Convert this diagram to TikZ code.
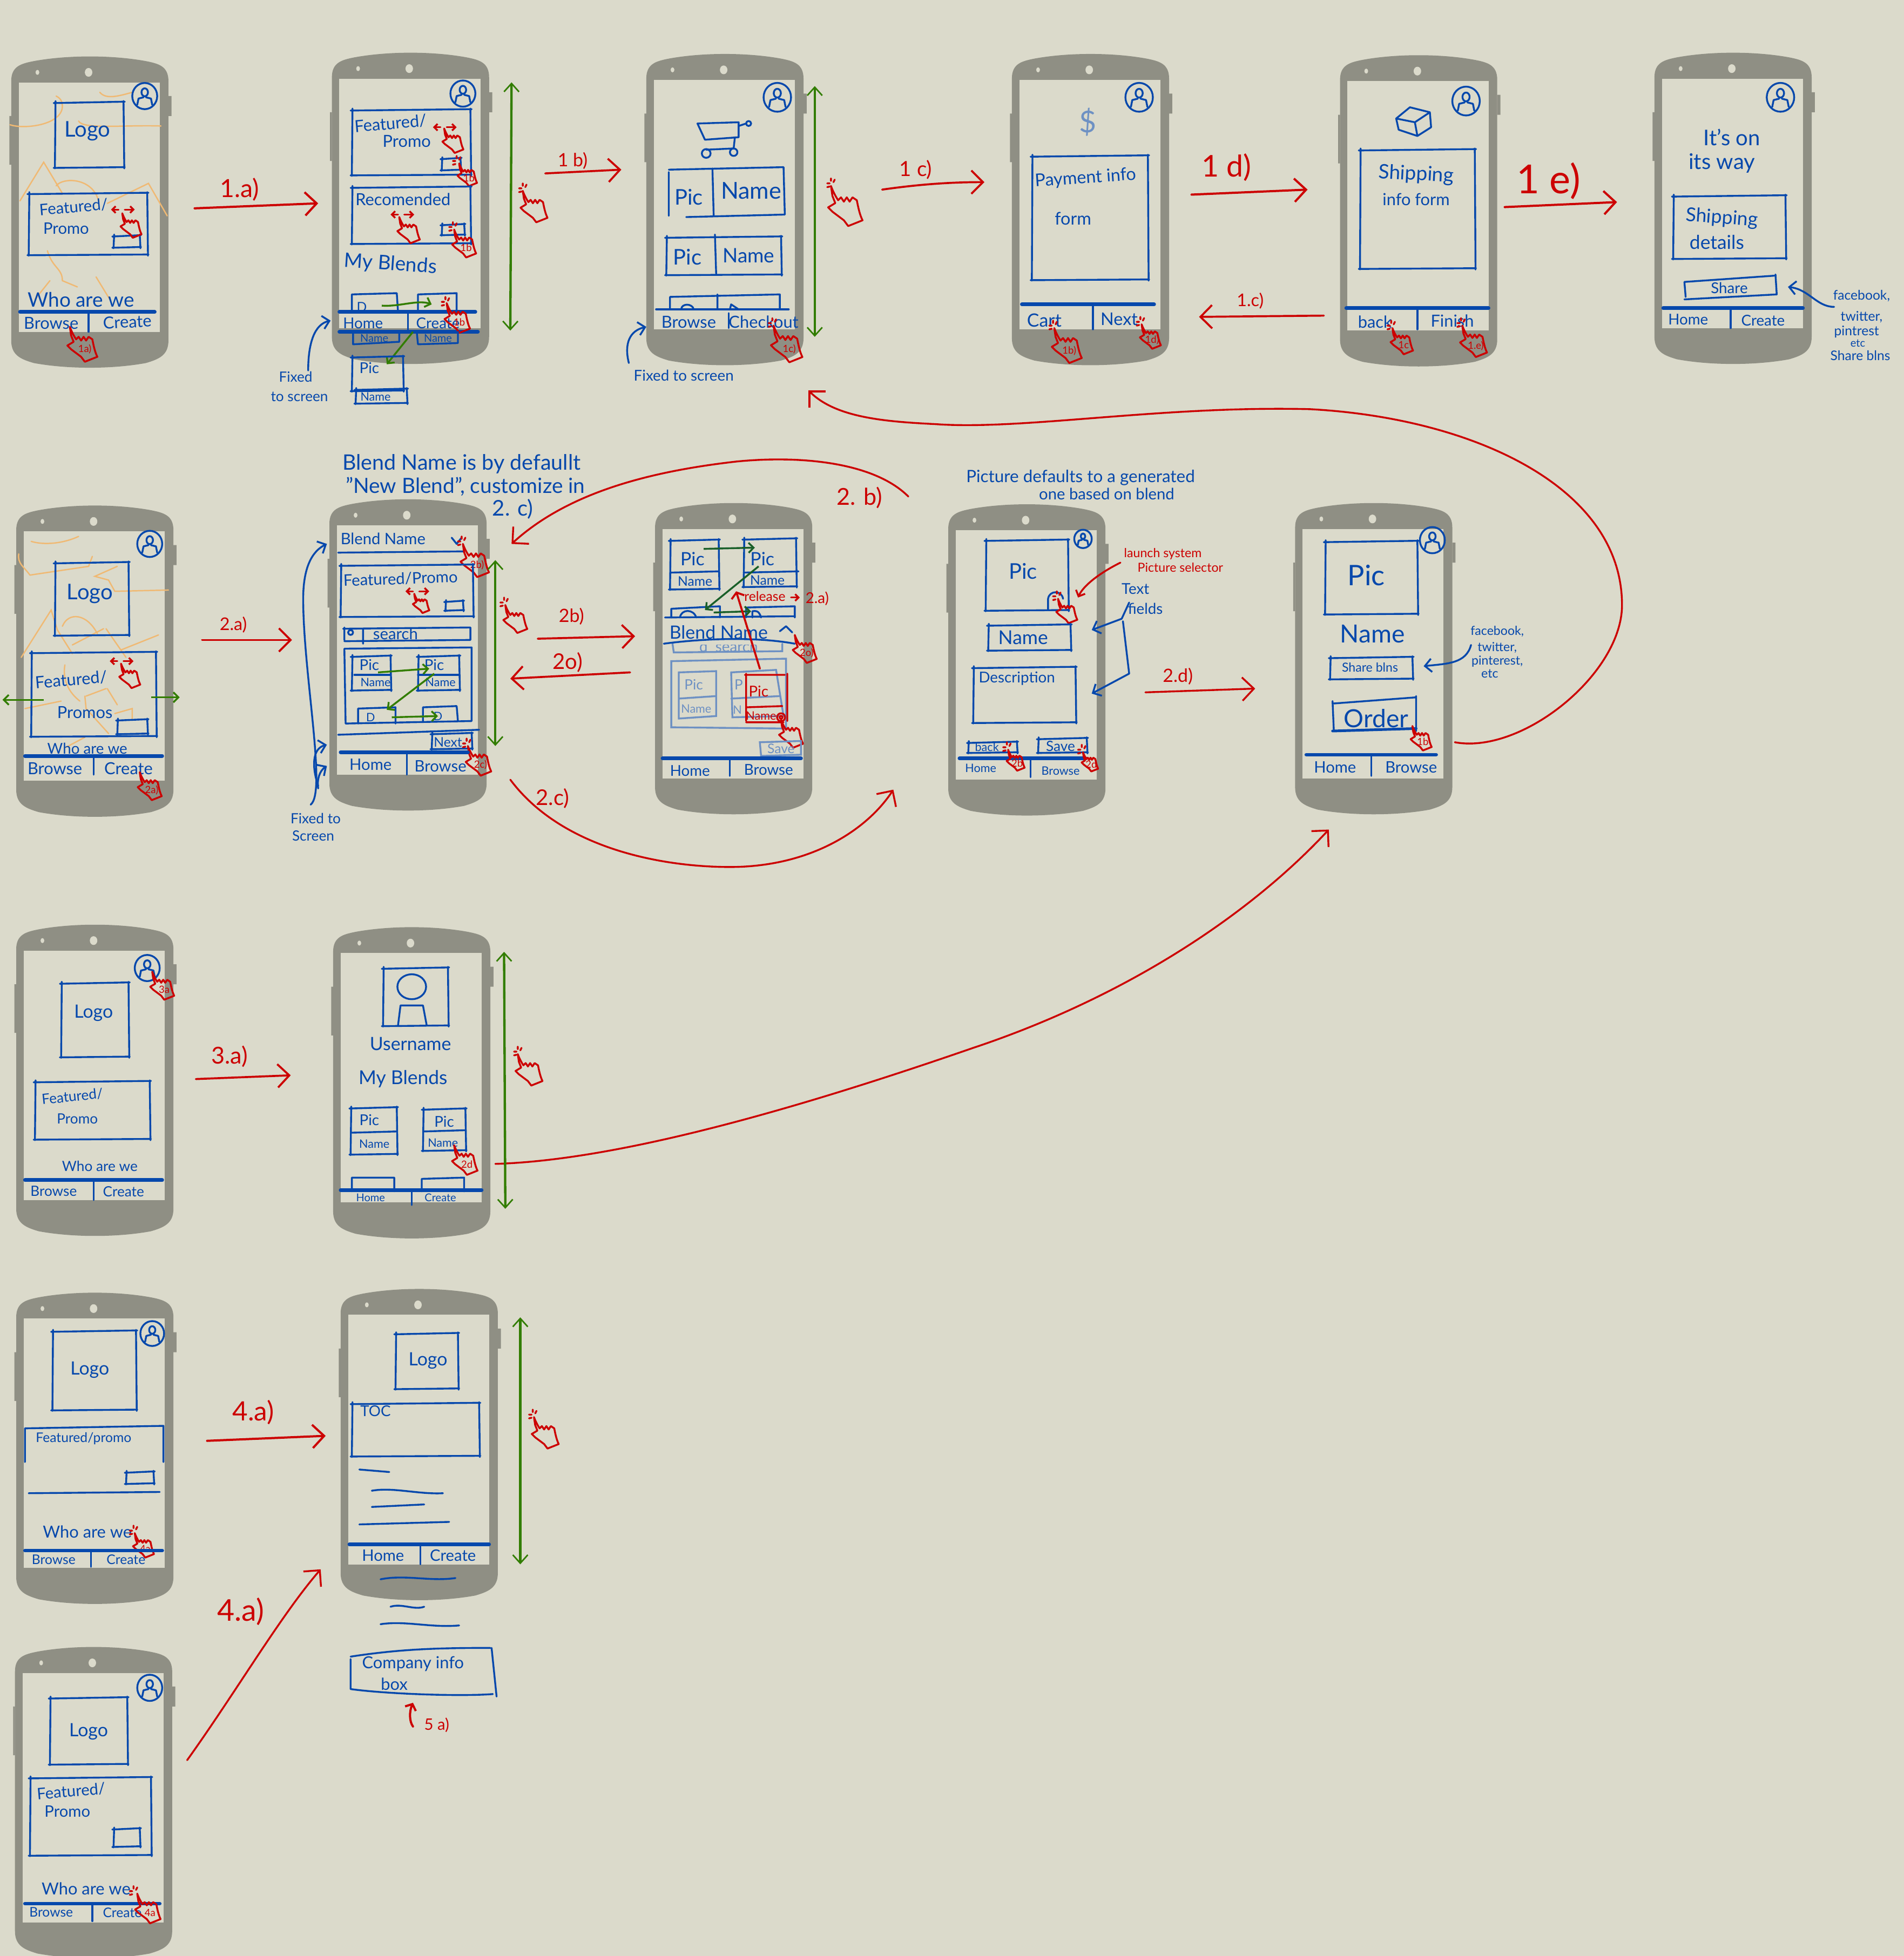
\documentclass[tikz,border=0pt]{standalone}
\usepackage{fontspec}
\setmainfont{Lato}
\usetikzlibrary{arrows.meta}
\definecolor{skbg}{RGB}{219,218,203}
\definecolor{skbody}{RGB}{143,143,132}
\definecolor{skblue}{RGB}{6,72,172}
\definecolor{skfade}{RGB}{110,145,195}
\definecolor{skred}{RGB}{204,0,0}
\definecolor{skgreen}{RGB}{50,125,0}
\definecolor{skdark}{RGB}{25,95,40}
\definecolor{skorange}{RGB}{240,185,115}
\tikzset{every picture/.style={line width=0.75pt},
  sk/.style={draw=skblue,line width=1.1pt,line cap=round,line join=round},
  skfaded/.style={draw=skfade,line width=1.1pt,line cap=round},
  skthick/.style={draw=skblue,line width=2.2pt,line cap=round},
  skred/.style={draw=skred,line width=1.1pt,line cap=round,line join=round},
  scrib/.style={draw=skorange,line width=0.8pt,line cap=round},
  lbl/.style={text=skblue,inner sep=0pt,font=\fontsize{#1}{#1}\selectfont},
  rlb/.style={text=skred,inner sep=0pt,font=\fontsize{#1}{#1}\selectfont},
  fad/.style={text=skfade,inner sep=0pt,font=\fontsize{#1}{#1}\selectfont},
  flow/.style={skred,line width=#1,-{Straight Barb[length=7pt,width=14pt,line width=#1]}},
  flow/.default=1.3pt,
  note/.style={sk,-{Straight Barb[length=4pt,width=8pt]}},
  scrl/.style={draw=skgreen,line width=1.4pt,{Straight Barb[length=5pt,width=9pt,line width=0.9pt]}-{Straight Barb[length=5pt,width=9pt,line width=0.9pt]}},
  drag/.style={draw=skgreen,line width=1.1pt,-{Straight Barb[length=3pt,width=6pt]}},
  dragd/.style={draw=skdark,line width=1.1pt,-{Straight Barb[length=3pt,width=6pt]}}}

\newcommand{\phone}[3]{\begin{scope}[shift={(#2,#3)}]
  \fill[skbody] (126,32) rectangle (128.5,48) (0,48) rectangle (-1.5,87);
  \fill[skbody] (0,20) .. controls (0,8) and (8,6) .. (18,4) .. controls (45,-1) and (81,-1) .. (108,4) .. controls (118,6) and (126,8) .. (126,20) -- (126,228) .. controls (126,240) and (118,243) .. (108,246) .. controls (81,251) and (45,251) .. (18,246) .. controls (8,243) and (0,240) .. (0,228) -- cycle;
  \fill[skbg] (6,21) rectangle (119,221);
  \fill[skbg] (21,13) ellipse (1.5 and 2) (62,13) ellipse (3 and 3.5);
  \node[inner sep=0pt,minimum width=94pt,minimum height=187pt] (#1) at (63,125) {};
\end{scope}}
\newcommand{\skbox}[4]{\draw[sk] (#1-1,#2+.6) -- (#3+1,#2-.5) (#3,#2-1) -- (#3+.6,#4+1) (#3+1,#4) -- (#1-1,#4+.6) (#1,#4+1) -- (#1+.5,#2-1);}
\newcommand{\avatar}[3]{\begin{scope}[shift={(#1,#2)},scale=#3]
  \draw[sk] (0,0) ellipse (10 and 10.5) (0,-3) ellipse (2.6 and 3.2);
  \draw[sk] (-6,7) -- (-5,2) -- (-1,1) (6,7) -- (5,2) -- (1,1);
\end{scope}}
\newcommand{\tabbar}[5]{\draw[skthick] (#1,#3) -- (#2,#3);\draw[sk] (#4,#3) -- (#4,#5);}
\newcommand{\tap}[5]{\begin{scope}[shift={(#2,#3)},scale=#4]
  \draw[skred] (0,0) .. controls (1,3) and (3,7) .. (5,10) -- (7,8) -- (9,11) -- (11,8) -- (13,11) -- (15,8) -- (18,10) .. controls (19,15) and (20,20) .. (22,24) -- (12,28) -- (9,24) -- (1,18) -- (-2,15) -- (3,12) -- (1,7) -- (0,0);
  \node[rlb=6] (#1) at (12,18) {#5};
\end{scope}}
\newcommand{\ticks}[2]{\draw[skred] (#1-4,#2-1) -- (#1-2,#2-1) (#1-4,#2+2) -- (#1-2,#2+1.5) (#1-1,#2-5) -- (#1-1,#2-3) (#1+2,#2-4) -- (#1+1,#2-2);}
\newcommand{\swipe}[2]{\draw[skred,-{Straight Barb[length=2pt,width=4pt]}] (#1-3,#2) -- (#1-9,#2);\draw[skred,-{Straight Barb[length=2pt,width=4pt]}] (#1+2,#2) -- (#1+10,#2);}

\begin{document}
\begin{tikzpicture}[x=0.75pt,y=0.75pt,yscale=-1,xscale=1]
\path[use as bounding box,clip] (0,0) rectangle (1526,1568);
\fill[skbg] (0,0) rectangle (1526,1568);

\phone{ph1}{9}{45}
\phone{ph2}{266}{42}
\phone{ph3}{518}{43}
\phone{ph4}{811}{43}
\phone{ph5}{1074}{44}
\phone{ph6}{1326}{42}
\phone{ph7}{13}{405}
\phone{ph8}{264}{400}
\phone{ph9}{525}{403}
\phone{ph10}{760}{404}
\phone{ph11}{1038}{403}
\phone{ph12}{13}{741}
\phone{ph13}{267}{743}
\phone{ph14}{13}{1036}
\phone{ph15}{273}{1033}
\phone{ph16}{12}{1320}

\draw[scrib] (8,100) .. controls (20,104) and (50,100) .. (50,85) .. controls (50,80) and (47,78) .. (45,77);
\draw[scrib] (63,97) .. controls (66,104) and (100,100) .. (129,101) (80,74) .. controls (85,80) and (95,77) .. (106,74);
\draw[scrib] (16,161) -- (35,130) -- (50,155) (45,149) .. controls (50,142) and (74,142) .. (79,161) (86,163) -- (119,147) -- (134,173);
\draw[scrib] (38,201) .. controls (42,215) and (50,215) .. (50,225) -- (62,230) (77,222) -- (88,240) (28,240) -- (40,225);
\avatar{116}{77}{1}
\skbox{44}{82}{99}{134}
\node[lbl=13] (logoa) at (70,105) {Logo};
\skbox{23}{155}{118}{204}
\node[lbl=9.5,rotate=5] (feata) at (59,166) {Featured/};
\node[lbl=9.5] (proma) at (53,183) {Promo};
\skbox{91}{189}{112}{198}
\swipe{98}{168}
\tap{tapa}{98}{171}{.7}{}
\node[lbl=12] (whoa) at (65,240) {Who are we};
\tabbar{16}{124}{250}{71}{266}
\node[lbl=10] (browa) at (41,259) {Browse};
\node[lbl=10,rotate=3] (creaa) at (102,258) {Create};
\tap{tapb}{56}{262}{1}{1a)}

\avatar{371}{75}{1}
\skbox{282}{88}{377}{140}
\node[lbl=10,rotate=5] (featb) at (313,99) {Featured/};
\node[lbl=10] (promb) at (326,113) {Promo};
\swipe{356}{102}
\tap{tapc}{356}{103}{.7}{}
\skbox{354}{127}{369}{136}
\ticks{367}{130}
\tap{tapd}{368}{131}{.65}{1b}
\skbox{282}{150}{377}{195}
\node[lbl=10] (recob) at (323,160) {Recomended};
\swipe{322}{172}
\tap{tape}{320}{174}{.75}{}
\skbox{354}{180}{372}{188}
\ticks{364}{183}
\tap{tapf}{364}{184}{.8}{1b}
\node[lbl=12,rotate=-4] (blenb) at (313,212) {My Blends};
\draw[sk] (282,250) -- (282,236) -- (318,235) -- (319,250) (335,250) -- (335,236) -- (366,235) -- (366,250);
\node[lbl=8] (dpica) at (290,246) {D};
\coordinate (dra) at (306,245);
\coordinate (drb) at (346,244);
\draw[drag] (dra) .. controls (320,246) and (335,240) .. (drb);
\ticks{358}{243}
\tabbar{272}{381}{250}{327}{265}
\draw[skthick] (272,266) -- (383,266);
\node[lbl=9] (homeb) at (291,259) {Home};
\node[lbl=9] (creab) at (351,259) {Create};
\tap{tapg}{358}{243}{.85}{1b}
\draw[sk] (283,266) -- (283,276) -- (320,274) -- (320,266) (334,266) -- (335,276) -- (367,275) -- (367,266);
\node[lbl=6.5] (nmea) at (300,271) {Name};
\node[lbl=6.5] (nmeb) at (351,271) {Name};
\coordinate (drc) at (331,266);
\coordinate (drd) at (310,292);
\draw[drag] (drc) -- (drd);
\skbox{282}{286}{323}{313}
\node[lbl=9] (picb) at (296,295) {Pic};
\skbox{285}{312}{326}{323}
\node[lbl=7] (nmec) at (301,318) {Name};
\coordinate (scra) at (410,66);
\coordinate (scrb) at (409,265);
\draw[scrl] (scra) -- (scrb);
\ticks{420}{152}
\tap{taph}{419}{153}{.9}{}
\node[lbl=8.5] (fixa) at (237,302) {Fixed};
\node[lbl=8.5] (fixb) at (240,318) {to screen};
\coordinate (fxa) at (247,297);
\coordinate (fxb) at (265,257);
\draw[note] (fxa) .. controls (247,275) and (252,260) .. (fxb);

\coordinate (a1as) at (156,167);
\coordinate (a1ae) at (255,163);
\draw[flow] (a1as) -- (a1ae);
\node[rlb=15] (l1a) at (192,152) {1.a)};
\coordinate (a1bs) at (437,139);
\coordinate (a1be) at (498,136);
\draw[flow=1.2pt] (a1bs) -- (a1be);
\node[rlb=11] (l1b) at (459,129) {1 b)};

\avatar{623}{78}{1.1}
\draw[sk] (559,99) -- (592,98) -- (592,110) -- (565,112) -- cycle (592,101) -- (598,99) (589,110) -- (588,119) -- (566,120);
\draw[sk] (600,99) circle (2) (566,123) circle (3.5) (588,122) circle (3);
\draw[sk] (536,136) -- (628,134) -- (629,172) -- (550,174) (536,138) -- (536,173) (571,135) -- (572,173);
\node[lbl=13] (picc) at (552,158) {Pic};
\node[lbl=14] (namc) at (602,153) {Name};
\skbox{534}{190}{626}{220}
\draw[sk] (573,188) -- (574,220);
\node[lbl=13] (picd) at (551,206) {Pic};
\node[lbl=12] (namd) at (600,205) {Name};
\draw[sk] (537,248) -- (537,238) -- (625,236) -- (625,248) (575,236) -- (575,248);
\draw[sk] (546,248) .. controls (546,243) and (555,243) .. (556,248) (585,248) -- (586,244) -- (592,248);
\draw[skthick,line width=1.4pt] (526,248) -- (632,248);
\draw[sk] (584,251) -- (584,263);
\node[lbl=10] (browc) at (552,258) {Browse};
\node[lbl=10] (checc) at (612,258) {Checkout};
\ticks{620}{260}
\tap{tapi}{620}{261}{1.05}{1c)}
\coordinate (scrc) at (653,69);
\coordinate (scrd) at (653,270);
\draw[scrl] (scrc) -- (scrd);
\ticks{667}{148}
\tap{tapj}{666}{149}{1.15}{}
\node[lbl=9] (fixc) at (548,301) {Fixed to screen};
\coordinate (fxc) at (504,291);
\coordinate (fxd) at (518,262);
\draw[note] (fxc) .. controls (500,275) and (505,265) .. (fxd);
\coordinate (a1cs) at (707,152);
\coordinate (a1ce) at (789,146);
\draw[flow=1.2pt] (a1cs) .. controls (735,148) and (760,146) .. (a1ce);
\node[rlb=12.5] (l1c) at (734,136) {1 c)};

\avatar{913}{78}{1.1}
\node[fad=18] (dolr) at (872,98) {\$};
\skbox{827}{125}{920}{224}
\node[lbl=10.5,rotate=4] (paym) at (870,143) {Payment info};
\node[lbl=10.5] (form) at (860,175) {form};
\tabbar{819}{925}{244}{876}{264}
\node[lbl=11] (cart) at (837,257) {Cart};
\node[lbl=10.5] (next) at (897,256) {Next};
\ticks{845}{262}
\tap{tapk}{845}{263}{1}{1b)}
\ticks{915}{259}
\tap{tapl}{915}{260}{.7}{1d)}
\node[rlb=18] (l1d) at (983,134) {1 d)};
\coordinate (a1ds) at (955,156);
\coordinate (a1de) at (1048,152);
\draw[flow] (a1ds) -- (a1de);
\coordinate (a1bks) at (1061,253);
\coordinate (a1bke) at (961,254);
\draw[flow=1.2pt] (a1bks) -- (a1bke);
\node[rlb=10.5] (l1cb) at (1002,241) {1.c)};

\avatar{1175}{81}{1.1}
\draw[sk] (1119,95) -- (1130,86) -- (1146,90) -- (1147,102) -- (1136,109) -- (1121,104) -- cycle (1119,95) -- (1134,98) -- (1146,90) (1134,98) -- (1136,109);
\skbox{1090}{120}{1182}{215}
\node[lbl=12,rotate=-3] (shpa) at (1135,140) {Shipping};
\node[lbl=10] (shpb) at (1135,160) {info form};
\tabbar{1079}{1193}{247}{1136}{264}
\node[lbl=10] (backa) at (1102,258) {back};
\node[lbl=10] (fina) at (1164,257) {Finish};
\ticks{1116}{262}
\tap{tapm}{1116}{263}{.75}{1c}
\ticks{1172}{260}
\tap{tapn}{1172}{261}{.9}{1.e)}
\node[rlb=24] (l1e) at (1241,145) {1 e)};
\coordinate (a1es) at (1206,166);
\coordinate (a1ee) at (1296,162);
\draw[flow] (a1es) -- (a1ee);

\avatar{1427}{78}{1.1}
\node[lbl=13] (itsa) at (1388,110) {It's on};
\node[lbl=13] (itsb) at (1380,131) {its way};
\skbox{1341}{157}{1431}{207}
\node[lbl=11.5,rotate=-4] (shpc) at (1380,175) {Shipping};
\node[lbl=11.5] (shpd) at (1376,194) {details};
\draw[sk] (1350,226) -- (1422,221) (1423,220) -- (1424,236) -- (1350,240) (1350,226) -- (1351,238);
\node[lbl=9] (shra) at (1386,231) {Share};
\tabbar{1333}{1445}{247}{1387}{263}
\node[lbl=9] (homec) at (1353,256) {Home};
\node[lbl=9] (creac) at (1413,257) {Create};
\node[lbl=8] (fbka) at (1492,237) {facebook,};
\node[lbl=8] (twta) at (1492,254) {twitter,};
\node[lbl=8] (pina) at (1488,266) {pintrest};
\node[lbl=6.5] (etca) at (1489,275) {etc};
\node[lbl=8] (shrb) at (1491,285) {Share blns};
\coordinate (nta) at (1470,246);
\coordinate (ntb) at (1433,230);
\draw[note] (nta) .. controls (1456,246) and (1450,232) .. (ntb);

\coordinate (bgs) at (1166,595);
\coordinate (bge) at (648,313);
\draw[flow=1.1pt] (bgs) .. controls (1220,605) and (1300,540) .. (1300,485) .. controls (1300,390) and (1180,335) .. (1050,328) .. controls (930,325) and (820,345) .. (750,340) .. controls (710,338) and (670,335) .. (bge);

\draw[scrib] (25,434) .. controls (35,437) and (50,436) .. (63,430) (15,444) .. controls (14,452) and (19,454) .. (24,461) -- (71,454) -- (74,446);
\draw[scrib] (94,454) -- (76,462) -- (87,465) -- (92,474) -- (135,473);
\draw[scrib] (17,527) -- (41,489) -- (46,505) -- (58,524) (50,502) .. controls (55,490) and (70,492) .. (78,508);
\draw[scrib] (58,517) -- (83,504) (85,504) -- (101,527) (97,521) -- (127,509) (52,533) .. controls (50,545) and (55,555) .. (64,562);
\draw[scrib] (20,568) -- (49,562) (68,558) -- (69,568) -- (87,588) (69,558) -- (85,552) (86,552) -- (94,565) (92,572) -- (106,568) -- (106,576) (53,599) -- (68,591);
\avatar{120}{436}{1}
\skbox{44}{451}{103}{509}
\node[lbl=13] (logob) at (72,476) {Logo};
\skbox{25}{523}{125}{590}
\node[lbl=10,rotate=5] (featc) at (57,545) {Featured/};
\node[lbl=10] (promc) at (68,571) {Promos};
\skbox{94}{577}{118}{588}
\swipe{97}{530}
\tap{tapo}{97}{532}{.7}{}
\coordinate (hla) at (35,561);
\coordinate (hlb) at (2,561);
\coordinate (hra) at (121,559);
\coordinate (hrb) at (144,559);
\draw[drag] (hla) -- (hlb);
\draw[drag] (hra) -- (hrb);
\node[lbl=9] (whob) at (70,600) {Who are we};
\tabbar{20}{130}{606}{75}{621}
\node[lbl=10] (browb) at (44,616) {Browse};
\node[lbl=10] (creab2) at (103,616) {Create};
\tap{tapp}{112}{619}{.8}{2a)}
\coordinate (a2as) at (162,513);
\coordinate (a2ae) at (234,513);
\draw[flow=1.2pt] (a2as) -- (a2ae);
\node[rlb=10.5] (l2a) at (187,501) {2.a)};

\node[lbl=12.8] (nta1) at (370,372) {Blend Name is by defaullt};
\node[lbl=12.6] (nta2) at (373,390) {"New Blend", customize in};
\node[lbl=13] (nta3) at (411,408) {2. c)};
\node[lbl=9.5] (nmed) at (307,432) {Blend Name};
\draw[sk] (362,431) -- (366,436) -- (370,431);
\draw[sk] (271,443) -- (372,442);
\ticks{371}{435}
\tap{tapq}{371}{436}{.95}{2b)}
\skbox{273}{453}{379}{494}
\node[lbl=9.5,rotate=2] (featd) at (321,464) {Featured/Promo};
\swipe{334}{474}
\tap{tapr}{332}{476}{.55}{}
\skbox{357}{482}{371}{489}
\draw[sk] (275,504) -- (377,503) (276,514) -- (377,513) (291,504) -- (291,516) (276,503) -- (276,513) (377,503) -- (377,513);
\draw[sk] (281,507) circle (2);
\node[lbl=9.5] (srcha) at (317,508) {search};
\draw[sk] (276,520) -- (277,580) -- (378,578) -- (378,519) -- (276,520);
\skbox{282}{526}{313}{553}
\draw[sk] (284,541) -- (313,541);
\node[lbl=9] (pice) at (296,533) {Pic};
\node[lbl=7] (name) at (301,547) {Name};
\skbox{335}{526}{368}{553}
\draw[sk] (335,541) -- (368,541);
\node[lbl=9] (picf) at (348,533) {Pic};
\node[lbl=7] (namf) at (353,547) {Name};
\draw[sk] (287,580) -- (287,568) -- (317,567) -- (317,580) (339,578) -- (339,567) -- (366,566) -- (367,578);
\node[lbl=7] (dpicb) at (297,575) {D};
\node[lbl=7] (dpicc) at (351,574) {D};
\coordinate (dre) at (303,539);
\coordinate (drf) at (344,536);
\coordinate (drg) at (348,540);
\coordinate (drh) at (310,569);
\coordinate (dri) at (314,575);
\coordinate (drj) at (351,574);
\draw[drag] (dre) -- (drf);
\draw[drag] (drg) -- (drh);
\draw[drag] (dri) -- (drj);
\draw[sk] (271,589) -- (384,585);
\skbox{346}{588}{378}{600}
\node[lbl=8] (nxtb) at (359,595) {Next};
\ticks{375}{597}
\tap{taps}{375}{598}{.85}{2c)}
\tabbar{273}{375}{603}{326}{621}
\node[lbl=9.5] (homed) at (297,613) {Home};
\node[lbl=9.5] (browd) at (353,614) {Browse};
\coordinate (scre) at (397,449);
\coordinate (scrf) at (397,598);
\draw[scrl] (scre) -- (scrf);
\ticks{405}{484}
\tap{tapt}{405}{485}{.8}{}
\node[lbl=8.5] (fixd) at (253,656) {Fixed to};
\node[lbl=8.5] (fixe) at (251,670) {Screen};
\coordinate (fxe) at (249,645);
\coordinate (fxf) at (262,436);
\coordinate (fxg) at (262,597);
\coordinate (fxh) at (262,614);
\draw[note] (fxe) .. controls (262,635) and (243,540) .. (243,480) .. controls (243,455) and (250,442) .. (fxf);
\draw[note] (255,630) .. controls (250,615) and (250,600) .. (fxg);
\draw[note] (255,632) .. controls (254,625) and (256,618) .. (fxh);

\coordinate (a2bs) at (431,512);
\coordinate (a2be) at (509,510);
\draw[flow=1.2pt] (a2bs) -- (a2be);
\node[rlb=11] (l2b) at (458,494) {2b)};
\coordinate (a2os) at (505,539);
\coordinate (a2oe) at (409,544);
\draw[flow=1.2pt] (a2os) -- (a2oe);
\node[rlb=13] (l2o) at (455,531) {2o)};
\coordinate (c2bs) at (728,398);
\coordinate (c2be) at (410,436);
\draw[flow=1.1pt] (c2bs) .. controls (700,370) and (640,365) .. (590,370) .. controls (520,378) and (455,395) .. (c2be);
\node[rlb=14] (l2cb) at (689,399) {2. b)};
\coordinate (c2cs) at (409,625);
\coordinate (c2ce) at (716,633);
\draw[flow=1.1pt] (c2cs) .. controls (450,680) and (530,695) .. (585,695) .. controls (650,695) and (695,665) .. (c2ce);
\node[rlb=13] (l2c) at (443,640) {2.c)};

\skbox{537}{433}{576}{472}
\draw[sk] (538,459) -- (576,458);
\node[lbl=11] (picg) at (555,448) {Pic};
\node[lbl=8] (namg) at (557,466) {Name};
\skbox{596}{432}{638}{470}
\draw[sk] (596,459) -- (640,458);
\node[lbl=11] (pich) at (611,448) {Pic};
\node[lbl=8] (namh) at (615,465) {Name};
\draw[sk] (538,495) -- (538,488) -- (577,486) -- (577,495) (598,495) -- (598,487) -- (637,486) -- (637,495);
\draw[sk] (545,495) .. controls (546,488) and (556,488) .. (558,495) (603,495) -- (603,490) .. controls (608,489) and (609,492) .. (610,495);
\coordinate (drk) at (564,440);
\coordinate (drl) at (605,439);
\coordinate (drm) at (608,454);
\coordinate (drn) at (565,489);
\coordinate (dro) at (572,491);
\coordinate (drp) at (602,490);
\draw[dragd] (drk) -- (drl);
\draw[dragd] (drm) -- (drn);
\draw[dragd] (dro) -- (drp);
\draw[sk] (533,495) -- (637,494);
\begin{scope}
\clip (535,517) rectangle (635,523);
\node[fad=9] (srchb) at (584,519) {q\ \ search};
\end{scope}
\draw[skfaded] (539,516) -- (540,523) -- (627,522) -- (627,516);
\node[lbl=11] (nmeg) at (576,507) {Blend Name};
\draw[sk] (625,506) -- (630,502) -- (635,507);
\draw[sk] (532,516) .. controls (570,511) and (610,511) .. (637,516);
\tap{tapu}{637}{509}{.8}{2o)}
\draw[skfaded] (538,530) -- (630,528) -- (630,584) -- (538,583) -- cycle;
\draw[skfaded] (544,539) -- (574,538) -- (574,574) -- (544,576) -- cycle (544,560) -- (574,558);
\node[fad=8.5] (pici) at (556,549) {Pic};
\node[fad=7] (nami) at (558,568) {Name};
\draw[skfaded] (586,539) -- (622,537) -- (628,574) -- (587,575) -- cycle (586,560) -- (625,558);
\node[fad=8.5] (picj) at (592,549) {P};
\node[fad=7] (namj) at (591,569) {N};
\draw[skred] (597,541) -- (629,541) (598,540) -- (598,578) (631,540) -- (631,578) (598,567) -- (627,566) (598,579) -- (628,579);
\node[rlb=9] (pick) at (608,554) {Pic};
\node[rlb=7] (namk) at (610,574) {Name};
\draw[skred] (626,575) circle (3.2) (626,575) circle (1.2);
\tap{tapv}{626}{577}{.8}{}
\coordinate (rla) at (609,536);
\coordinate (rlb) at (590,474);
\draw[flow=1.2pt,-{Straight Barb[length=3pt,width=8pt]}] (rla) -- (rlb);
\node[rlb=8] (rlsa) at (613,478) {release};
\draw[skred,-{Straight Barb[length=2pt,width=4pt]}] (634,479) -- (641,479);
\node[rlb=9] (rlsb) at (655,480) {2.a)};
\draw[skfaded] (609,595) -- (642,594) -- (642,605) -- (610,606) -- cycle;
\node[fad=8] (savea) at (626,600) {Save};
\tabbar{531}{642}{608}{585}{622}
\node[lbl=9] (homee) at (553,618) {Home};
\node[lbl=9] (browe) at (616,617) {Browse};

\node[lbl=10.2] (ntc1) at (866,383) {Picture defaults to a generated};
\node[lbl=9.5] (ntc2) at (887,396) {one based on blend};
\avatar{868}{432}{.7}
\skbox{790}{433}{856}{489}
\node[lbl=13] (picl) at (820,458) {Pic};
\draw[sk] (840,489) -- (840,480) .. controls (841,473) and (851,473) .. (852,480);
\ticks{848}{479}
\tap{tapw}{848}{480}{.7}{}
\skbox{792}{501}{858}{521}
\node[lbl=11.5] (naml) at (820,511) {Name};
\skbox{780}{535}{862}{579}
\node[lbl=9] (desc) at (815,544) {Description};
\skbox{776}{595}{815}{603}
\node[lbl=7] (backb) at (791,599) {back};
\skbox{832}{592}{871}{603}
\node[lbl=8.5] (saveb) at (850,598) {Save};
\tabbar{769}{870}{608}{826}{623}
\node[lbl=7] (homef) at (786,616) {Home};
\node[lbl=7] (browf) at (850,618) {Browse};
\ticks{808}{600}
\tap{tapx}{808}{601}{.6}{2b}
\ticks{868}{602}
\tap{tapy}{868}{603}{.55}{2d}
\node[rlb=7.5] (lnca) at (932,444) {launch system};
\node[rlb=7.5] (lncb) at (946,455) {Picture selector};
\coordinate (lnc) at (898,451);
\coordinate (lnd) at (864,479);
\draw[skred,-{Straight Barb[length=3pt,width=6pt]}] (lnc) .. controls (880,460) and (868,470) .. (lnd);
\node[lbl=9] (txta) at (910,472) {Text};
\node[lbl=9] (txtb) at (918,488) {fields};
\coordinate (txc) at (899,496);
\coordinate (txd) at (875,505);
\coordinate (txe) at (900,498);
\coordinate (txf) at (875,556);
\draw[sk] (905,483) -- (txc);
\draw[note] (txc) -- (txd);
\draw[note] (txe) -- (905,540) -- (txf);
\coordinate (a2ds) at (918,555);
\coordinate (a2de) at (1006,552);
\draw[flow=1.1pt] (a2ds) -- (a2de);
\node[rlb=11] (l2d) at (944,542) {2.d)};

\avatar{1148}{433}{1}
\skbox{1062}{434}{1136}{492}
\node[lbl=17] (picm) at (1095,461) {Pic};
\node[lbl=15] (namm) at (1100,508) {Name};
\skbox{1066}{527}{1132}{544}
\node[lbl=7.5] (shrc) at (1098,535) {Share blns};
\draw[sk] (1068,564) -- (1135,559) (1135,558) -- (1135,586) (1068,562) -- (1069,585);
\draw[skthick,line width=1.6pt] (1068,586) -- (1135,584);
\node[lbl=15] (ordr) at (1103,576) {Order};
\tap{tapz}{1132}{582}{.7}{1b}
\tabbar{1047}{1151}{605}{1099}{622}
\node[lbl=9.5] (homeg) at (1070,615) {Home};
\node[lbl=9.5] (browg) at (1131,615) {Browse};
\node[lbl=7.5] (fbkb) at (1200,506) {facebook,};
\node[lbl=7.5] (twtb) at (1200,519) {twitter,};
\node[lbl=7.5] (pinb) at (1200,530) {pinterest,};
\node[lbl=7.5] (etcb) at (1194,540) {etc};
\coordinate (ntd) at (1179,517);
\coordinate (nte) at (1141,534);
\draw[note] (ntd) .. controls (1175,532) and (1160,532) .. (nte);

\coordinate (bhs) at (397,933);
\coordinate (bhe) at (1065,665);
\draw[flow=1.1pt] (bhs) .. controls (500,930) and (650,885) .. (780,840) .. controls (900,800) and (1000,735) .. (bhe);

\avatar{118}{776}{1}
\tap{tapaa}{122}{779}{.8}{3a}
\skbox{49}{788}{103}{847}
\node[lbl=11] (logoc) at (75,812) {Logo};
\skbox{28}{867}{120}{913}
\node[lbl=8.5,rotate=6] (feate) at (58,879) {Featured/};
\node[lbl=8.5] (prome) at (62,897) {Promo};
\node[lbl=8.5] (whoc) at (80,935) {Who are we};
\tabbar{20}{130}{946}{75}{962}
\node[lbl=8.5] (browh) at (43,955) {Browse};
\node[lbl=8.5] (creah) at (99,955) {Create};
\coordinate (a3as) at (157,865);
\coordinate (a3ae) at (233,862);
\draw[flow=1.2pt] (a3as) -- (a3ae);
\node[rlb=14] (l3a) at (184,847) {3.a)};

\skbox{307}{776}{359}{822}
\draw[sk] (330,791) ellipse (11.5 and 10) (319,822) -- (321,806) -- (339,806) -- (342,822);
\node[lbl=11] (usrn) at (329,837) {Username};
\node[lbl=11.5] (blenc) at (323,865) {My Blends};
\skbox{281}{888}{318}{925}
\draw[sk] (282,908) -- (318,907);
\node[lbl=9] (picn) at (296,898) {Pic};
\node[lbl=7] (namn) at (300,917) {Name};
\skbox{339}{889}{373}{922}
\draw[sk] (340,907) -- (373,906);
\node[lbl=9] (pico) at (356,899) {Pic};
\node[lbl=7] (namo) at (355,916) {Name};
\tap{tapab}{364}{918}{.85}{2d}
\draw[sk] (282,955) -- (282,944) -- (316,944) -- (316,955) (338,955) -- (338,945) -- (372,944) -- (372,955);
\tabbar{273}{386}{954}{330}{966}
\node[lbl=6.5] (homei) at (297,960) {Home};
\node[lbl=6.5] (creai) at (353,960) {Create};
\coordinate (scrg) at (404,763);
\coordinate (scrh) at (405,969);
\draw[scrl] (scrg) -- (scrh);
\ticks{416}{844}
\tap{tapac}{415}{845}{.9}{}

\avatar{122}{1069}{.95}
\skbox{42}{1067}{109}{1130}
\node[lbl=11] (logod) at (72,1098) {Logo};
\draw[sk] (20,1172) -- (20,1145) -- (131,1143) -- (131,1172) (23,1197) -- (128,1196);
\node[lbl=8] (featf) at (67,1153) {Featured/promo};
\skbox{101}{1180}{123}{1189}
\node[lbl=10] (whod) at (70,1228) {Who are we};
\ticks{108}{1228}
\tap{tapad}{108}{1229}{.7}{4a}
\tabbar{20}{130}{1243}{73}{1256}
\node[lbl=8] (browj) at (43,1250) {Browse};
\node[lbl=8] (creaj) at (101,1250) {Create};
\coordinate (a4as) at (166,1155);
\coordinate (a4ae) at (261,1151);
\draw[flow] (a4as) -- (a4ae);
\node[rlb=16] (l4a) at (203,1132) {4.a)};

\skbox{317}{1069}{367}{1113}
\node[lbl=11] (logoe) at (343,1091) {Logo};
\skbox{282}{1125}{384}{1167}
\node[lbl=9] (toca) at (301,1131) {TOC};
\draw[sk] (288,1178) -- (312,1180) (298,1195) .. controls (315,1192) and (335,1198) .. (355,1197) (298,1208) -- (340,1206) (288,1222) -- (360,1220);
\tabbar{280}{392}{1238}{337}{1254}
\node[lbl=9.5] (homej) at (307,1247) {Home};
\node[lbl=9.5] (creak) at (363,1247) {Create};
\draw[sk] (305,1266) .. controls (325,1262) and (345,1268) .. (365,1265) (313,1288) .. controls (322,1285) and (332,1291) .. (340,1288) (305,1302) .. controls (325,1299) and (345,1305) .. (368,1303);
\draw[sk] (281,1328) .. controls (320,1322) and (350,1321) .. (393,1321) (394,1321) -- (398,1360) (281,1330) -- (281,1354) .. controls (310,1358) and (370,1360) .. (395,1358);
\node[lbl=10] (comp) at (331,1334) {Company info};
\node[lbl=10] (boxa) at (316,1350) {box};
\coordinate (fvs) at (331,1384);
\coordinate (fve) at (331,1365);
\draw[skred,line width=1.3pt,-{Straight Barb[length=3pt,width=7pt]}] (fvs) .. controls (328,1380) and (328,1372) .. (fve);
\node[rlb=9.5] (l5a) at (350,1383) {5 a)};
\coordinate (scri) at (417,1056);
\coordinate (scrj) at (417,1254);
\draw[scrl] (scri) -- (scrj);
\ticks{428}{1135}
\tap{tapae}{428}{1136}{.9}{}

\avatar{120}{1353}{1}
\skbox{40}{1361}{102}{1414}
\node[lbl=11] (logof) at (71,1388) {Logo};
\skbox{24}{1425}{121}{1487}
\node[lbl=9.5,rotate=5] (featg) at (57,1436) {Featured/};
\node[lbl=9.5] (promg) at (54,1452) {Promo};
\skbox{91}{1466}{112}{1480}
\node[lbl=10] (whoe) at (69,1514) {Who are we};
\tabbar{20}{128}{1526}{74}{1540}
\node[lbl=8] (browk) at (41,1533) {Browse};
\node[lbl=8] (creal) at (98,1533) {Create};
\ticks{108}{1517}
\tap{tapaf}{110}{1518}{.85}{4a}
\coordinate (a4bs) at (150,1411);
\coordinate (a4be) at (257,1258);
\draw[flow=1.1pt] (a4bs) .. controls (190,1355) and (225,1295) .. (a4be);
\node[rlb=18] (l4b) at (193,1292) {4.a)};
\end{tikzpicture}
\end{document}
